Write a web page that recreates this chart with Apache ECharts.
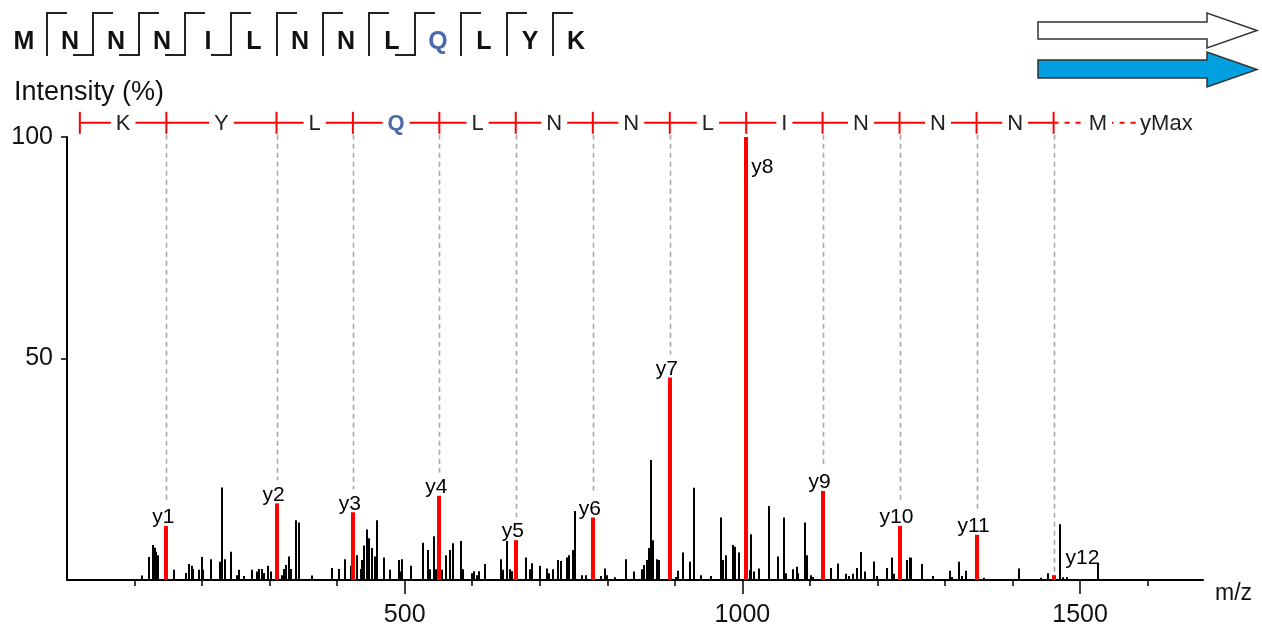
<!DOCTYPE html>
<html><head><meta charset="utf-8">
<script src="https://cdn.jsdelivr.net/npm/echarts@6/dist/echarts.min.js"></script>
<style>html,body{margin:0;padding:0;background:#fff}#c{width:1262px;height:633px}</style>
</head><body><div id="c"></div>
<script>
// ---------- data ----------
const sequence = ['M','N','N','N','I','L','N','N','L','Q','L','Y','K'];
const highlightResidue = 9; // Q
const bBreaks = [0,1,1,1,1,0,0,0,1,0,0,0];
const yBreaks = [1,1,1,1,1,1,1,1,1,1,1,1];

const ladderResidues = ['K','Y','L','Q','L','N','N','L','I','N','N','N','M'];
const ladderMz = [19.0, 147.1, 310.2, 423.3, 551.3, 664.4, 778.5, 892.5, 1005.6, 1118.7, 1232.7, 1346.7, 1460.8, 1591.8];

const yIonNames = ['y1','y2','y3','y4','y5','y6','y7','y8','y9','y10','y11','y12'];
const yIonMz = [147.1, 310.2, 423.3, 551.3, 664.4, 778.5, 892.5, 1005.6, 1118.7, 1232.7, 1346.7, 1460.8];
const yIonIntensity = [12.2, 17.3, 15.3, 19.0, 9.0, 14.1, 45.7, 100, 20.1, 12.2, 10.2, 1.1];

const otherMz = [111,121,127,130,132,135,159,176,181,185,187,196,200,202,213,227,230,234,243,251,255,262,274,281,284,288,292,298,302,319,322,324,328,331,339,343,363,393,402,411,420,429,435,437,440,444,447,452,456,459,470,478,491,
493,496,509,527,534,537,543,546,555,561,567,571,584,587,599,603,607,610,619,642,646,652,656,659,679,685,689,700,710,713,720,727,731,741,744,749,752,763,769,790,796,800,811,827,839,852,855,859,862,865,868,874,877,
895,901,905,912,922,928,939,953,969,971,976,986,989,995,1007,1011,1013,1017,1024,1040,1052,1062,1065,1075,1081,1083,1092,1095,1101,1105,1131,1141,1154,1158,1164,1170,1175,1181,1195,1199,1214,1221,1225,1244,1248,1250,1266,1282,
1307,1311,1320,1325,1331,1358,1409,1442,1453,1471,1474,1481,1527];
const otherIntensity = [1.0,5.2,7.9,7.3,6.4,5.6,2.3,1.6,3.6,3.2,2.5,2.3,5.2,2.3,4.7,4.1,20.9,4.7,6.4,1.1,2.3,0.9,2.3,1.9,2.5,2.5,1.6,3.2,1.9,1.1,2.5,3.4,5.3,2.5,13.5,13.0,1.0,2.7,2.5,4.7,3.2,5.6,2.5,4.5,7.8,11.4,9.4,7.2,5.3,13.5,5.1,2.3,4.5,
1.9,4.7,3.2,8.4,6.8,2.4,9.9,2.4,2.3,5.6,6.8,8.3,8.8,2.4,1.5,2.0,1.1,2.0,3.6,4.7,2.3,8.8,2.4,2.0,5.1,2.4,3.8,3.2,2.6,1.5,2.4,4.5,4.3,5.1,5.6,6.8,15.6,1.1,1.1,0.9,2.6,1.1,0.6,4.7,1.9,2.4,3.4,4.5,7.2,27.1,9.0,4.7,4.5,
23.3,0.7,2.1,6.2,4.1,20.8,1.1,0.9,14.1,4.5,5.6,7.9,7.5,6.2,4.1,2.2,10.3,1.9,2.6,16.7,5.3,14.1,1.5,2.4,3.0,1.5,13.0,5.6,1.1,0.7,2.7,3.7,1.4,0.9,1.4,2.7,6.3,1.9,4.2,0.9,2.7,5.1,1.4,4.5,5.1,5.0,3.6,0.9,
2.1,0.7,4.1,0.9,2.1,0.5,2.6,0.5,1.5,12.6,0.6,0.6,3.9];

const xTickValues = [100,200,300,400,500,600,700,800,900,1000,1100,1200,1300,1400,1500,1600];
const xLabelValues = [500,1000,1500];
const yTickValues = [50,100];

// ---------- layout / style ----------
const FONT = 'Liberation Sans, Arial, sans-serif';
const RED = '#ff0000';
const BLUE_TXT = '#4a6aab';
const LADDER_LEVEL = 103.2;

const chart = echarts.init(document.getElementById('c'), null, {renderer:'canvas'});

function peakRender(width, color) {
  return function(params, api) {
    const x = api.value(0), y = api.value(1);
    const top = api.coord([x, y]);
    const base = api.coord([x, 0]);
    const left = Math.round(top[0] - width/2);
    return {type:'rect', shape:{x: left, y: top[1], width: width, height: base[1]-top[1]}, style:{fill: color}};
  };
}

function ionRender(params, api) {
  const x = api.value(0), y = api.value(1);
  const name = yIonNames[params.dataIndex];
  const top = api.coord([x, y]);
  const base = api.coord([x, 0]);
  const lad = api.coord([x, LADDER_LEVEL]);
  const children = [];
  let dashEnd, label;
  if (y >= 90) {
    dashEnd = null;
    label = {type:'text', style:{text:name, x: top[0]+5, y: top[1]+20, textAlign:'left', textVerticalAlign:'top', font:'21px ' + FONT, fill:'#000'}};
  } else if (y < 3) {
    dashEnd = top[1];
    label = {type:'text', style:{text:name, x: top[0]+12, y: top[1]-6, textAlign:'left', textVerticalAlign:'bottom', font:'21px ' + FONT, fill:'#000'}};
  } else {
    dashEnd = top[1] - 23;
    label = {type:'text', style:{text:name, x: top[0]-3, y: top[1]+2, textAlign:'center', textVerticalAlign:'bottom', font:'21px ' + FONT, fill:'#000'}};
  }
  const lx = Math.round(lad[0]) + 0.5;
  if (dashEnd !== null) {
    children.push({type:'line', shape:{x1: lx, y1: lad[1]+12, x2: lx, y2: dashEnd}, style:{stroke:'#a8a8a8', lineWidth:1.6, lineDash:[5,4]}});
  }
  children.push({type:'rect', shape:{x: Math.round(top[0]-2), y: top[1], width:4, height: base[1]-top[1]}, style:{fill: RED}});
  children.push(label);
  return {type:'group', children: children};
}

function ladderRender(params, api) {
  const i = params.dataIndex;
  const a = api.coord([api.value(0), LADDER_LEVEL]);
  const b = api.coord([api.value(1), LADDER_LEVEL]);
  const last = i === ladderResidues.length - 1;
  const children = [];
  children.push({type:'line', shape:{x1:a[0], y1:a[1], x2:b[0], y2:b[1]}, style:{stroke: RED, lineWidth: 2, lineDash: last ? [5,6] : null}});
  if (i === 0) {
    children.push({type:'line', shape:{x1:a[0], y1:a[1]-11, x2:a[0], y2:a[1]+11}, style:{stroke: RED, lineWidth: 2}});
  }
  if (!last) {
    children.push({type:'line', shape:{x1:b[0], y1:b[1]-11, x2:b[0], y2:b[1]+11}, style:{stroke: RED, lineWidth: 2}});
  }
  const res = ladderResidues[i];
  const isQ = res === 'Q';
  children.push({type:'text', z2: 10, style:{text: res, x:(a[0]+b[0])/2, y:a[1]+1, textAlign:'center', textVerticalAlign:'middle',
    font: (isQ ? 'bold ' : '') + '22px ' + FONT, fill: isQ ? BLUE_TXT : '#222', backgroundColor:'#fff', padding:[0,5]}});
  if (last) {
    children.push({type:'text', style:{text:'yMax', x:b[0]-4, y:a[1]+1, textAlign:'left', textVerticalAlign:'middle', font:'22px ' + FONT, fill:'#222', backgroundColor:'#fff', padding:[0,0,0,2]}});
  }
  return {type:'group', children: children};
}

// sequence graphic
const seqGraphics = [];
sequence.forEach((r, i) => {
  seqGraphics.push({type:'text', x: 24 + 46*i, y: 42, style:{text:r, textAlign:'center', textVerticalAlign:'middle',
    font:'bold 25px ' + FONT, fill: i === highlightResidue ? BLUE_TXT : '#111'}});
});
for (let i = 0; i < sequence.length - 1; i++) {
  const sx = 47 + 46*i;
  seqGraphics.push({type:'line', shape:{x1:sx, y1:12, x2:sx, y2:56}, style:{stroke:'#222', lineWidth:2}});
  if (yBreaks[i]) seqGraphics.push({type:'line', shape:{x1:sx-1, y1:13, x2:sx+20, y2:13}, style:{stroke:'#222', lineWidth:2}});
  if (bBreaks[i]) seqGraphics.push({type:'line', shape:{x1:sx-20, y1:55, x2:sx+1, y2:55}, style:{stroke:'#222', lineWidth:2}});
}
// arrows
seqGraphics.push({type:'polygon', shape:{points:[[1038,22],[1207,22],[1207,13],[1257,30.5],[1207,48],[1207,39],[1038,39]]}, style:{fill:'#fff', stroke:'#333', lineWidth:1.5}});
seqGraphics.push({type:'polygon', shape:{points:[[1038,60],[1207,60],[1207,52],[1257,69.5],[1207,87],[1207,78],[1038,78]]}, style:{fill:'#009fe0', stroke:'#333', lineWidth:1.5}});
seqGraphics.push({type:'text', x:14, y:93, style:{text:'Intensity (%)', textAlign:'left', textVerticalAlign:'middle', font:'27px ' + FONT, fill:'#111'}});

const option = {
  backgroundColor:'#fff',
  animation:false,
  grid:{left:67, right:59, top:137, bottom:53, containLabel:false},
  xAxis:[{
    type:'value', min:0, max:1682, position:'bottom',
    axisLine:{show:true, onZero:false, lineStyle:{color:'#000', width:2}},
    axisTick:{show:true, customValues: xTickValues, length:6, lineStyle:{color:'#000', width:1.5}},
    axisLabel:{show:true, customValues: xLabelValues, margin:23, fontSize:25, fontFamily:FONT, color:'#111', formatter: v => String(v)},
    splitLine:{show:false},
    name:'m/z', nameLocation:'end', nameGap:12, nameTextStyle:{fontSize:23, fontFamily:FONT, color:'#111', verticalAlign:'top', padding:[2,0,0,0]}
  },{
    type:'value', min:0, max:1682, position:'bottom',
    axisLine:{show:false},
    axisTick:{show:true, customValues: xLabelValues, length:14, lineStyle:{color:'#000', width:1.5}},
    axisLabel:{show:false}, splitLine:{show:false}
  }],
  yAxis:{
    type:'value', min:0, max:100,
    axisLine:{show:true, lineStyle:{color:'#000', width:2}},
    axisTick:{show:true, customValues: yTickValues, length:6, lineStyle:{color:'#000', width:1.5}},
    axisLabel:{show:true, customValues: yTickValues, margin:14, fontSize:25, fontFamily:FONT, color:'#111', formatter: v => String(v)},
    splitLine:{show:false}
  },
  graphic: seqGraphics,
  series:[
    {type:'custom', name:'peaks', clip:false, renderItem: peakRender(2, '#000'), encode:{x:0, y:1},
      data: otherMz.map((m, i) => [m, otherIntensity[i]]), z: 2},
    {type:'custom', name:'y ions', clip:false, renderItem: ionRender, encode:{x:0, y:1},
      data: yIonMz.map((m, i) => [m, yIonIntensity[i]]), z: 3},
    {type:'custom', name:'ladder', clip:false, renderItem: ladderRender, encode:{x:[0,1], y:2},
      data: ladderResidues.map((r, i) => [ladderMz[i], ladderMz[i+1], LADDER_LEVEL]), z: 4}
  ]
};
chart.setOption(option);
</script></body></html>
